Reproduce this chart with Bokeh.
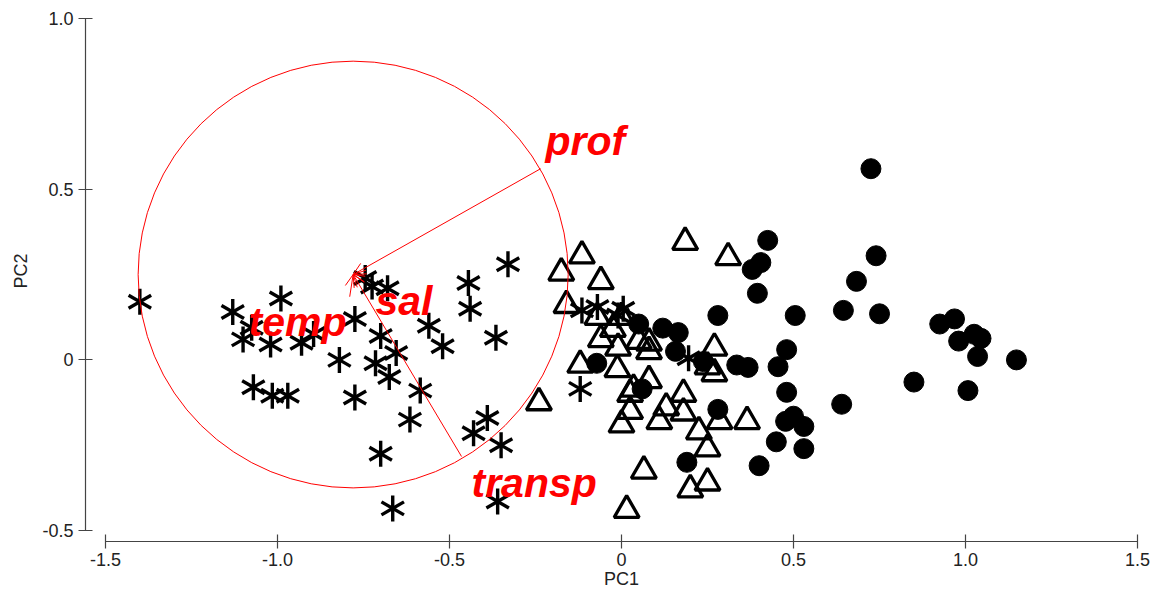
from bokeh.plotting import figure
from bokeh.models import Range1d, FixedTicker, CustomJSTickFormatter, Arrow, OpenHead
from bokeh.embed import file_html
from bokeh.resources import INLINE
from bokeh.core.properties import value

# ---------------- data ----------------
ast_x = [-1.40, -1.13, -0.99, -1.10, -1.02, -0.93, -1.075, -0.895, -0.82, -1.07, -1.015, -0.97,
         -0.775, -0.775, -0.745, -0.725, -0.68, -0.70, -0.56, -0.52, -0.655, -0.715, -0.675,
         -0.585, -0.615, -0.445, -0.44, -0.33, -0.365, -0.39, -0.43, -0.35, -0.70, -0.665,
         -0.36, -0.12, -0.115, -0.07, 0.005, -0.01, 0.195]
ast_y = [0.17, 0.14, 0.18, 0.06, 0.045, 0.05, 0.094, 0.076, 0.00, -0.08, -0.105, -0.105,
         0.12, -0.11, 0.24, 0.215, 0.21, 0.07, 0.10, 0.04, 0.02, -0.01, -0.05,
         -0.09, -0.175, 0.225, 0.15, 0.28, 0.065, -0.17, -0.215, -0.25, -0.275, -0.435,
         -0.415, -0.085, 0.145, 0.155, 0.15, 0.13, 0.005]

tri_x = [0.185, -0.115, -0.175, -0.06, 0.31, -0.16, -0.07, 0.0, -0.025, -0.06, -0.01, 0.05,
         0.08, 0.08, -0.24, -0.12, -0.012, 0.08, 0.035, 0.025, 0.18, 0.27, 0.25, 0.27,
         0.025, 0.0, 0.13, 0.11, 0.18, 0.285, 0.365, 0.225, 0.25, 0.065, 0.20, 0.25, 0.015]
tri_y = [0.345, 0.305, 0.255, 0.23, 0.30, 0.16, 0.125, 0.125, 0.09, 0.06, 0.035, 0.055,
         0.05, 0.025, -0.125, -0.015, -0.028, -0.06, -0.085, -0.10, -0.10, 0.035, -0.02, -0.04,
         -0.15, -0.19, -0.14, -0.18, -0.155, -0.18, -0.18, -0.21, -0.26, -0.325, -0.38, -0.36, -0.44]

cir_x = [0.725, 0.425, 0.405, 0.38, 0.395, 0.74, 0.683, 0.645, 0.75, 0.505, 0.28, 0.05,
         0.12, 0.165, 0.157, -0.072, 0.238, 0.335, 0.368, 0.06, 0.28, 0.19, 0.40, 0.48,
         0.455, 0.48, 0.64, 0.477, 0.50, 0.53, 0.45, 0.53, 0.925, 0.968, 0.98, 1.025,
         1.045, 1.035, 1.148, 0.85, 1.007]
cir_y = [0.56, 0.35, 0.285, 0.265, 0.195, 0.305, 0.23, 0.145, 0.135, 0.13, 0.13, 0.105,
         0.093, 0.08, 0.025, -0.01, -0.005, -0.015, -0.022, -0.085, -0.145, -0.30, -0.31, 0.03,
         -0.02, -0.095, -0.13, -0.18, -0.165, -0.195, -0.24, -0.26, 0.105, 0.12, 0.055, 0.075,
         0.063, 0.01, 0.0, -0.065, -0.09]

circle_cx = -0.78
circle_cy = 0.25
circle_r = 0.625

var_names = ["prof", "temp", "sal", "transp"]
var_end_x = [-0.235, -0.79, -0.745, -0.465]
var_end_y = [0.56, 0.185, 0.245, -0.283]
var_label_x = [-0.221, -1.084, -0.715, -0.436]
var_label_y = [0.641, 0.111, 0.173, -0.361]

x_ticks = [-1.5, -1.0, -0.5, 0, 0.5, 1.0, 1.5]
y_ticks = [-0.5, 0, 0.5, 1.0]
x_title = "PC1"
y_title = "PC2"

# ---------------- figure ----------------
p = figure(width=1158, height=594, output_backend="svg", toolbar_location=None,
           x_range=Range1d(-1.558, 1.558), y_range=Range1d(-0.532, 1.0527),
           min_border_left=85, min_border_right=1, min_border_top=0, min_border_bottom=53)
p.grid.visible = False
p.outline_line_color = None
p.background_fill_color = "white"

fmt_code = "return tick == 0 ? '0' : tick.toFixed(1);"
for ax in [p.xaxis[0], p.yaxis[0]]:
    ax.axis_line_color = "#444444"
    ax.axis_line_width = 1.2
    ax.major_tick_line_color = "#444444"
    ax.major_tick_line_width = 1.2
    ax.minor_tick_line_color = None
    ax.major_tick_in = 7
    ax.major_tick_out = 7
    ax.major_label_text_font = "Liberation Sans"
    ax.major_label_text_font_size = "18px"
    ax.major_label_text_color = "#222222"
    ax.axis_label_text_font = "Liberation Sans"
    ax.axis_label_text_font_size = "18px"
    ax.axis_label_text_font_style = "normal"
    ax.axis_label_text_color = "#222222"
    ax.formatter = CustomJSTickFormatter(code=fmt_code)
p.xaxis[0].ticker = FixedTicker(ticks=x_ticks)
p.yaxis[0].ticker = FixedTicker(ticks=y_ticks)
p.xaxis[0].bounds = (-1.5, 1.5)
p.yaxis[0].bounds = (-0.5, 1.0)
p.xaxis[0].major_label_standoff = 4
p.yaxis[0].major_label_standoff = 5
p.xaxis[0].axis_label = x_title
p.yaxis[0].axis_label = y_title
p.xaxis[0].axis_label_standoff = 0
p.yaxis[0].axis_label_standoff = 8

# markers
p.scatter(cir_x, cir_y, marker="circle", size=20, fill_color="black", line_color="black")
p.scatter(tri_x, tri_y, marker="triangle", size=25, fill_color=None, line_color="black",
          line_width=3.3)
for ang in [1.5708, 0.5236, -0.5236]:
    p.scatter(ast_x, ast_y, marker="dash", size=26, angle=ang, line_color="black", line_width=3.4)

# correlation circle and vectors
p.ellipse(x=[circle_cx], y=[circle_cy], width=2 * circle_r, height=2 * circle_r,
          fill_color=None, line_color="red", line_width=1)
for ex, ey in zip(var_end_x, var_end_y):
    p.add_layout(Arrow(end=OpenHead(size=12, line_color="red", line_width=1),
                       x_start=ex, y_start=ey, x_end=circle_cx, y_end=circle_cy,
                       line_color="red", line_width=1))

p.text(x=var_label_x, y=var_label_y, text=var_names, text_font=value("Liberation Sans"),
       text_font_style="bold italic", text_font_size="41px", text_color="red",
       text_align="left", text_baseline="alphabetic")

open("out.html", "w").write(file_html(p, INLINE))
